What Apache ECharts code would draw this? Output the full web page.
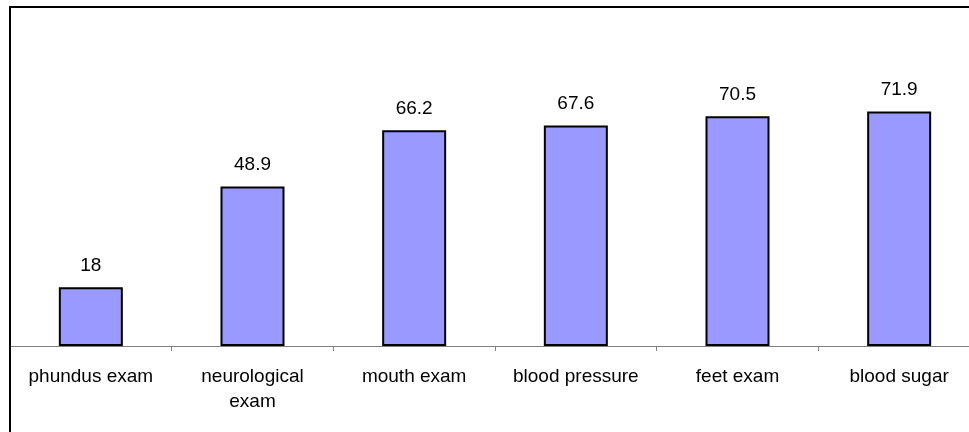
<!DOCTYPE html>
<html>
<head>
<meta charset="utf-8">
<script src="https://cdn.jsdelivr.net/npm/echarts@6/dist/echarts.min.js"></script>
<style>
html,body{margin:0;padding:0;background:#fff;overflow:hidden;width:969px;height:432px;}
#chart{width:990px;height:432px;}
</style>
</head>
<body>
<div id="chart"></div>
<script>
const categories = ['phundus exam', 'neurological\nexam', 'mouth exam', 'blood pressure', 'feet exam', 'blood sugar'];
const values = [18, 48.9, 66.2, 67.6, 70.5, 71.9];

const chart = echarts.init(document.getElementById('chart'), null, {renderer: 'canvas'});
chart.setOption({
  animation: false,
  backgroundColor: '#ffffff',
  textStyle: {fontFamily: 'Liberation Sans, Arial, sans-serif'},
  grid: {left: 10, top: 20, width: 970, bottom: 86, containLabel: false},
  xAxis: {
    type: 'category',
    data: categories,
    axisLine: {lineStyle: {color: '#808080', width: 1}},
    axisTick: {show: true, length: 5, lineStyle: {color: '#808080'}},
    axisLabel: {color: '#000', fontSize: 19, margin: 18, lineHeight: 25, interval: 0,
      fontFamily: 'Liberation Sans, Arial, sans-serif'}
  },
  yAxis: {
    type: 'value', min: 0, max: 100, show: false,
    splitLine: {show: false}
  },
  series: [{
    type: 'bar',
    data: values,
    barWidth: 64,
    itemStyle: {color: '#9999FF', borderColor: '#000', borderWidth: 2},
    label: {show: true, position: 'top', distance: 12, color: '#000', fontSize: 19,
      fontFamily: 'Liberation Sans, Arial, sans-serif'}
  }],
  graphic: [{
    type: 'rect',
    shape: {x: 10, y: 7, width: 1200, height: 1000},
    style: {fill: 'none', stroke: '#000', lineWidth: 2},
    silent: true,
    z: 100
  }]
});
</script>
</body>
</html>
